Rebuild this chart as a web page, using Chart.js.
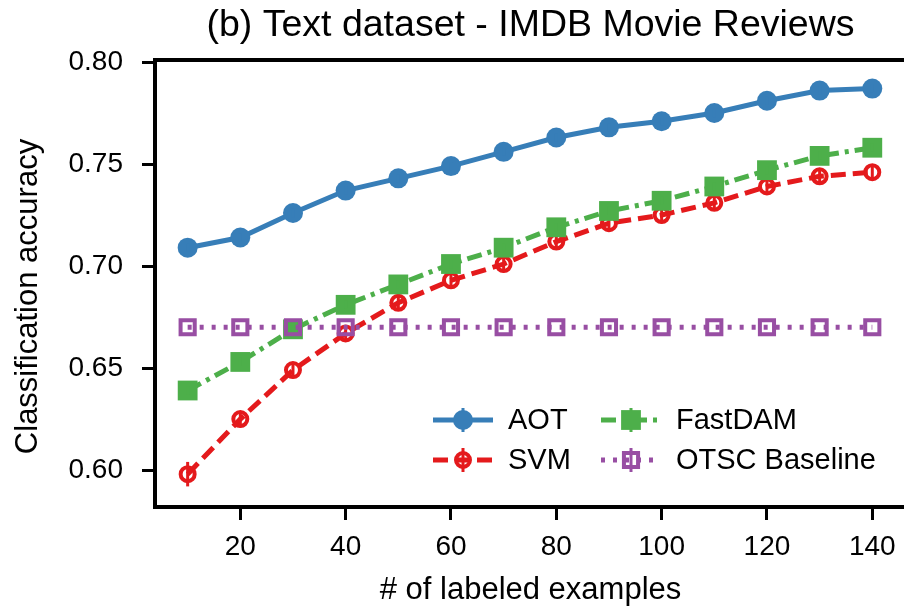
<!DOCTYPE html>
<html>
<head>
<meta charset="utf-8">
<title>Text dataset - IMDB Movie Reviews</title>
<script src="https://cdn.jsdelivr.net/npm/chart.js@4.4.0/dist/chart.umd.min.js"></script>
<style>
  html, body { margin: 0; padding: 0; background: #fff; overflow: hidden; }
  #wrap { width: 906px; height: 613px; }
</style>
</head>
<body>
<div id="wrap"><canvas id="myChart" width="906" height="613"></canvas></div>
<script>
// Accuracy vs. number of labeled examples
const labeledExamples = [10, 20, 30, 40, 50, 60, 70, 80, 90, 100, 110, 120, 130, 140];
const aotAcc     = [0.709, 0.714, 0.726, 0.737, 0.743, 0.749, 0.756, 0.763, 0.768, 0.771, 0.775, 0.781, 0.786, 0.787];
const svmAcc     = [0.598, 0.625, 0.649, 0.667, 0.682, 0.693, 0.701, 0.712, 0.721, 0.725, 0.731, 0.739, 0.744, 0.746];
const fastdamAcc = [0.639, 0.653, 0.669, 0.681, 0.691, 0.701, 0.709, 0.719, 0.727, 0.732, 0.739, 0.747, 0.754, 0.758];
const otscAcc    = [0.670, 0.670, 0.670, 0.670, 0.670, 0.670, 0.670, 0.670, 0.670, 0.670, 0.670, 0.670, 0.670, 0.670];

// Standard errors (drawn as small vertical bars)
const aotErr     = [0.002, 0.002, 0.002, 0.002, 0.002, 0.002, 0.002, 0.002, 0.002, 0.002, 0.002, 0.002, 0.002, 0.002];
const svmErr     = [0.006, 0.004, 0.004, 0.004, 0.004, 0.004, 0.004, 0.004, 0.004, 0.004, 0.004, 0.004, 0.004, 0.004];
const fastdamErr = [0.002, 0.002, 0.002, 0.002, 0.002, 0.002, 0.002, 0.002, 0.002, 0.002, 0.002, 0.002, 0.002, 0.002];
const otscErr    = [0, 0, 0, 0, 0, 0, 0, 0, 0, 0, 0, 0, 0, 0];

const seriesNames = ['AOT', 'SVM', 'FastDAM', 'OTSC Baseline'];
const xTicks = [20, 40, 60, 80, 100, 120, 140];
const yTicks = [0.60, 0.65, 0.70, 0.75, 0.80];
const yLabel = 'Classification accuracy';

const FONT = '"Liberation Sans", Arial, Helvetica, sans-serif';

function points(ys) {
  return labeledExamples.map(function(x, i) { return { x: x, y: ys[i] }; });
}

// Vertical error bars for each series
const errorBars = {
  id: 'errorBars',
  afterDatasetDraw: function(chart, args) {
    const ds = chart.data.datasets[args.index];
    if (!ds.errors) return;
    const ctx = chart.ctx;
    const yScale = chart.scales.y;
    ctx.save();
    ctx.strokeStyle = ds.borderColor;
    ctx.lineWidth = 3;
    args.meta.data.forEach(function(pt, i) {
      const e = ds.errors[i];
      if (!e) return;
      const v = ds.data[i].y;
      ctx.beginPath();
      ctx.moveTo(pt.x, yScale.getPixelForValue(v - e));
      ctx.lineTo(pt.x, yScale.getPixelForValue(v + e));
      ctx.stroke();
    });
    ctx.restore();
  }
};

// Black box round the plot area, plus the rotated y label
const frame = {
  id: 'frame',
  afterDatasetsDraw: function(chart) {
    const a = chart.chartArea;
    const ctx = chart.ctx;
    ctx.save();
    ctx.strokeStyle = '#000';
    ctx.lineWidth = 4;
    ctx.strokeRect(a.left, a.top, a.right - a.left, a.bottom - a.top);
    ctx.translate(28, (a.top + a.bottom) / 2 + 13);
    ctx.rotate(-Math.PI / 2);
    ctx.fillStyle = '#000';
    ctx.font = '31px ' + FONT;
    ctx.textAlign = 'center';
    ctx.textBaseline = 'middle';
    ctx.fillText(yLabel, 0, 0);
    ctx.restore();
  }
};

function drawMarker(ctx, ds, x, y) {
  const r = ds.pointRadius;
  ctx.save();
  ctx.setLineDash([]);
  ctx.fillStyle = ds.pointBackgroundColor;
  ctx.strokeStyle = ds.borderColor;
  ctx.lineWidth = ds.pointBorderWidth;
  ctx.beginPath();
  if (ds.pointStyle === 'rect') {
    const s = Math.SQRT1_2 * r;
    ctx.rect(x - s, y - s, 2 * s, 2 * s);
  } else {
    ctx.arc(x, y, r, 0, Math.PI * 2);
  }
  ctx.fill();
  if (ds.pointBorderWidth > 0) ctx.stroke();
  ctx.restore();
}

// Two-column legend inside the plot, lower right
const insideLegend = {
  id: 'insideLegend',
  afterDraw: function(chart) {
    const ctx = chart.ctx;
    const cols = [433, 601];
    const rows = [420, 460];
    const handle = 60;
    chart.data.datasets.forEach(function(ds, i) {
      const x0 = cols[Math.floor(i / 2)];
      const y = rows[i % 2];
      const xm = x0 + handle / 2;
      ctx.save();
      ctx.strokeStyle = ds.borderColor;
      ctx.lineWidth = ds.borderWidth;
      ctx.setLineDash(ds.borderDash || []);
      ctx.beginPath();
      ctx.moveTo(x0, y);
      ctx.lineTo(x0 + handle, y);
      ctx.stroke();
      ctx.setLineDash([]);
      ctx.lineWidth = 3;
      ctx.beginPath();
      ctx.moveTo(xm, y - 12);
      ctx.lineTo(xm, y + 12);
      ctx.stroke();
      ctx.restore();
      drawMarker(ctx, ds, xm, y);
      ctx.save();
      ctx.fillStyle = '#000';
      ctx.font = '29px ' + FONT;
      ctx.textBaseline = 'middle';
      ctx.textAlign = 'left';
      ctx.fillText(ds.label, x0 + 75, y + 1);
      ctx.restore();
    });
  }
};

function drawChart() {
  const ctx = document.getElementById('myChart').getContext('2d');
  const clear = 'rgba(0,0,0,0)';
  const chartData = {
    datasets: [{
      label: seriesNames[0],
      data: points(aotAcc),
      errors: aotErr,
      borderColor: '#377eb8',
      backgroundColor: '#377eb8',
      pointBackgroundColor: '#377eb8',
      borderWidth: 5,
      pointStyle: 'circle',
      pointRadius: 10,
      pointBorderWidth: 0,
      order: 3
    }, {
      label: seriesNames[1],
      data: points(svmAcc),
      errors: svmErr,
      borderColor: '#e41a1c',
      backgroundColor: clear,
      pointBackgroundColor: clear,
      borderWidth: 5,
      borderDash: [15, 7],
      pointStyle: 'circle',
      pointRadius: 7,
      pointBorderWidth: 4,
      order: 2
    }, {
      label: seriesNames[2],
      data: points(fastdamAcc),
      errors: fastdamErr,
      borderColor: '#4daf4a',
      backgroundColor: '#4daf4a',
      pointBackgroundColor: '#4daf4a',
      borderWidth: 5,
      borderDash: [15, 6, 4, 6],
      pointStyle: 'rect',
      pointRadius: 14,
      pointBorderWidth: 0,
      order: 1
    }, {
      label: seriesNames[3],
      data: points(otscAcc),
      errors: otscErr,
      borderColor: '#984ea3',
      backgroundColor: clear,
      pointBackgroundColor: clear,
      borderWidth: 5,
      borderDash: [4, 8],
      pointStyle: 'rect',
      pointRadius: 10,
      pointBorderWidth: 4,
      order: 0
    }]
  };

  chartData.datasets.forEach(function(ds) {
    ds.fill = false;
    ds.tension = 0;
    ds.clip = false;
    ds.pointHoverRadius = ds.pointRadius;
    ds.pointBorderColor = ds.borderColor;
  });

  new Chart(ctx, {
    type: 'line',
    data: chartData,
    plugins: [errorBars, frame, insideLegend],
    options: {
      responsive: false,
      animation: false,
      events: [],
      layout: { padding: 0, autoPadding: false },
      plugins: {
        legend: { display: false },
        tooltip: { enabled: false },
        title: {
          display: true,
          fullSize: false,
          text: '(b) Text dataset - IMDB Movie Reviews',
          color: '#000',
          font: { family: FONT, size: 37.5, weight: 'normal', lineHeight: 1.2 },
          padding: { top: 3, bottom: 12 }
        }
      },
      scales: {
        x: {
          type: 'linear',
          min: 3.8,
          max: 146.4,
          afterBuildTicks: function(scale) {
            scale.ticks = xTicks.map(function(v) { return { value: v }; });
          },
          afterFit: function(scale) {
            scale.height = 106;
            scale.paddingLeft = 0;
            scale.paddingRight = 0;
          },
          border: { display: false },
          grid: { drawOnChartArea: false, drawTicks: true, tickLength: 13, tickWidth: 3, tickColor: '#000' },
          ticks: { color: '#000', font: { family: FONT, size: 28 }, padding: 10, maxRotation: 0, autoSkip: false },
          title: {
            display: true,
            text: '# of labeled examples',
            color: '#000',
            font: { family: FONT, size: 31 },
            padding: { top: 0, bottom: 4 }
          }
        },
        y: {
          type: 'linear',
          min: 0.5819,
          max: 0.801,
          afterBuildTicks: function(scale) {
            scale.ticks = yTicks.map(function(v) { return { value: v }; });
          },
          afterFit: function(scale) {
            scale.width = 155;
            scale.paddingTop = 0;
            scale.paddingBottom = 0;
          },
          border: { display: false },
          grid: { drawOnChartArea: false, drawTicks: true, tickLength: 13, tickWidth: 3, tickColor: '#000' },
          ticks: {
            color: '#000',
            font: { family: FONT, size: 28 },
            padding: 19,
            callback: function(v) { return v.toFixed(2); }
          }
        }
      }
    }
  });
}

window.onload = drawChart;
</script>
</body>
</html>
